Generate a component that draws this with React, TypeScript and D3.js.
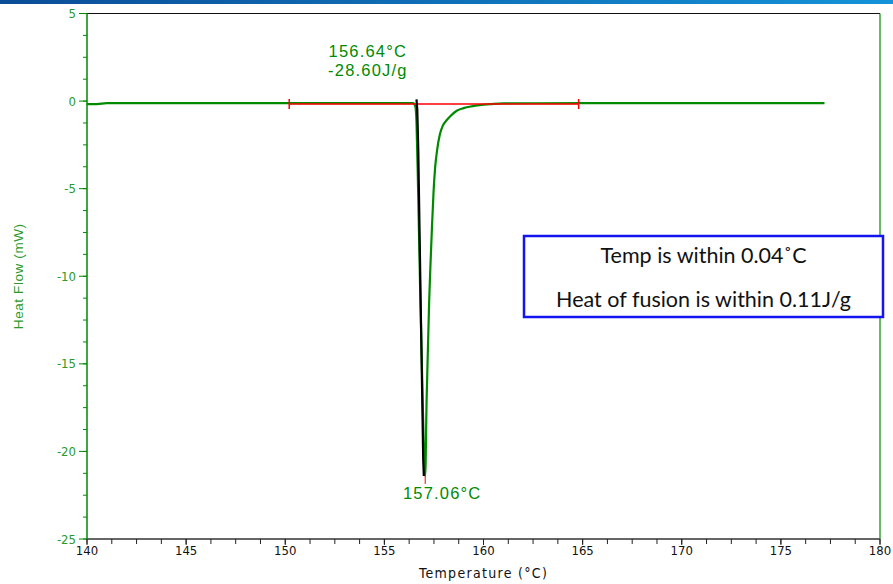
import React from "react";
import * as d3 from "d3";

const xTicks = [140, 145, 150, 155, 160, 165, 170, 175, 180];
const yTicks = [5, 0, -5, -10, -15, -20, -25];

const greenTemp = [140.0, 140.5, 141, 145, 150, 155, 156.45, 156.56, 156.62, 156.7, 156.8, 156.9, 157.0, 157.06, 157.13, 157.2, 157.26, 157.32, 157.4, 157.48, 157.56, 157.66, 157.8, 157.95, 158.15, 158.36, 158.65, 159.0, 159.4, 159.8, 160.4, 161, 165, 170, 175, 177.2];
const greenFlow = [-0.17, -0.17, -0.12, -0.12, -0.12, -0.12, -0.12, -0.3, -1.2, -5.0, -10.5, -15.5, -20.2, -21.4, -17.1, -14.0, -11.4, -9.5, -7.2, -5.2, -3.8, -2.8, -1.9, -1.4, -1.08, -0.82, -0.55, -0.4, -0.3, -0.23, -0.17, -0.13, -0.12, -0.12, -0.12, -0.12];

const blackTemp = [156.62, 156.66, 156.71, 156.83, 156.96, 156.99];
const blackFlow = [0.1, -0.5, -2.8, -11.4, -20.5, -21.4];

const baselineTemp = [150.2, 164.8];
const baselineFlow = [-0.17, -0.17];

const onsetLabel = ["156.64°C", "-28.60J/g"];
const peakTemp = 157.06;
const peakFlow = -21.4;
const peakLabel = "157.06°C";
const noteLines = ["Temp is within 0.04˚C", "Heat of fusion is within 0.11J/g"];

export default function App() {
  const W = 893, H = 584;
  const x = d3.scaleLinear().domain([140, 180]).range([87, 880]);
  const y = d3.scaleLinear().domain([5, -25]).range([13.5, 539]);

  const line = d3.line<[number, number]>().x(d => x(d[0])).y(d => y(d[1]));
  const smooth = d3.line<[number, number]>().x(d => x(d[0])).y(d => y(d[1])).curve(d3.curveMonotoneX);
  const greenPts = greenTemp.map((t, i) => [t, greenFlow[i]] as [number, number]);
  const blackPts = blackTemp.map((t, i) => [t, blackFlow[i]] as [number, number]);
  const basePts = baselineTemp.map((t, i) => [t, baselineFlow[i]] as [number, number]);

  const xMinor = d3.range(140, 180.001, 1.25);
  const yMinor = d3.range(-25, 5.001, 1.25);

  const tickFont = "'Liberation Sans Narrow', 'DejaVu Sans Condensed', 'Liberation Sans', Arial, sans-serif";
  const annFont = "'Liberation Sans', Arial, sans-serif";
  const axisGreen = "#2a9a2a";
  const curveGreen = "#008a00";

  return (
    <svg width={W} height={H} style={{ position: "absolute", left: 0, top: 0, background: "#fff" }}>
      <defs>
        <linearGradient id="topbar" x1="0" x2="1" y1="0" y2="0">
          <stop offset="0" stopColor="#0b4d97" />
          <stop offset="1" stopColor="#1493d8" />
        </linearGradient>
      </defs>
      <rect x={0} y={0} width={W} height={4} fill="url(#topbar)" />

      {/* frame */}
      <line x1={x(140)} x2={x(180)} y1={y(5)} y2={y(5)} stroke="#111" strokeWidth={1.2} />
      <line x1={x(180)} x2={x(180)} y1={y(5)} y2={y(-25)} stroke={curveGreen} strokeWidth={1.2} />

      {/* y axis */}
      <line x1={x(140)} x2={x(140)} y1={y(5)} y2={y(-25)} stroke={curveGreen} strokeWidth={1.5} />
      {yMinor.map((v, i) => (
        <line key={"ym" + i} x1={x(140) - 4} x2={x(140)} y1={y(v)} y2={y(v)} stroke={curveGreen} strokeWidth={1} />
      ))}
      {yTicks.map(v => (
        <g key={"yt" + v}>
          <line x1={x(140) - 8} x2={x(140)} y1={y(v)} y2={y(v)} stroke={curveGreen} strokeWidth={1} />
          <text x={x(140) - 11} y={y(v)} dy="0.35em" textAnchor="end" fontFamily={tickFont} fontSize={13} fill={axisGreen}>{v}</text>
        </g>
      ))}
      <text transform={`translate(23, ${y(-10)}) rotate(-90)`} textAnchor="middle" fontFamily={annFont} fontSize={13.5} letterSpacing={0.6} fill={axisGreen}>Heat Flow (mW)</text>

      {/* x axis */}
      <line x1={x(140)} x2={x(180)} y1={y(-25)} y2={y(-25)} stroke="#666" strokeWidth={2} />
      {xMinor.map((v, i) => (
        <line key={"xm" + i} x1={x(v)} x2={x(v)} y1={y(-25)} y2={y(-25) + 5} stroke="#222" strokeWidth={1} />
      ))}
      {xTicks.map(v => (
        <g key={"xt" + v}>
          <line x1={x(v)} x2={x(v)} y1={y(-25)} y2={y(-25) + 6} stroke="#222" strokeWidth={1} />
          <text x={x(v)} y={y(-25) + 16} textAnchor="middle" fontFamily={tickFont} fontSize={13} fill="#111">{v}</text>
        </g>
      ))}
      <text x={x(160)} y={578} textAnchor="middle" fontFamily={tickFont} fontSize={14} letterSpacing={1.3} fill="#111">Temperature (°C)</text>

      {/* curves */}
      <path d={smooth(greenPts) || ""} fill="none" stroke={curveGreen} strokeWidth={2.2} strokeLinejoin="round" />
      <path d={line(basePts) || ""} fill="none" stroke="#ff0000" strokeWidth={1.5} />
      {basePts.map((p, i) => (
        <line key={"bt" + i} x1={x(p[0])} x2={x(p[0])} y1={y(p[1]) - 5} y2={y(p[1]) + 5} stroke="#ff0000" strokeWidth={1.5} />
      ))}
      <path d={line(blackPts) || ""} fill="none" stroke="#000" strokeWidth={2.2} />
      <line x1={x(peakTemp)} x2={x(peakTemp)} y1={y(peakFlow)} y2={y(peakFlow) + 8} stroke="#ff0000" strokeWidth={1} />

      {/* annotations */}
      <text x={x(156.64) - 49} y={57} textAnchor="middle" fontFamily={annFont} fontSize={16.5} letterSpacing={1.2} fill={curveGreen}>{onsetLabel[0]}</text>
      <text x={x(156.64) - 49} y={76} textAnchor="middle" fontFamily={annFont} fontSize={16.5} letterSpacing={1.2} fill={curveGreen}>{onsetLabel[1]}</text>
      <text x={x(peakTemp) + 17} y={499} textAnchor="middle" fontFamily={annFont} fontSize={16.5} letterSpacing={1.2} fill={curveGreen}>{peakLabel}</text>

      {/* note box */}
      <rect x={524} y={236} width={359} height={81} fill="#fff" stroke="#1414f0" strokeWidth={2.5} />
      <text x={703.5} y={263} textAnchor="middle" fontFamily="Lato, 'Open Sans', sans-serif" fontSize={21.5} fill="#111">{noteLines[0]}</text>
      <text x={703.5} y={307} textAnchor="middle" fontFamily="Lato, 'Open Sans', sans-serif" fontSize={21.5} fill="#111">{noteLines[1]}</text>
    </svg>
  );
}
